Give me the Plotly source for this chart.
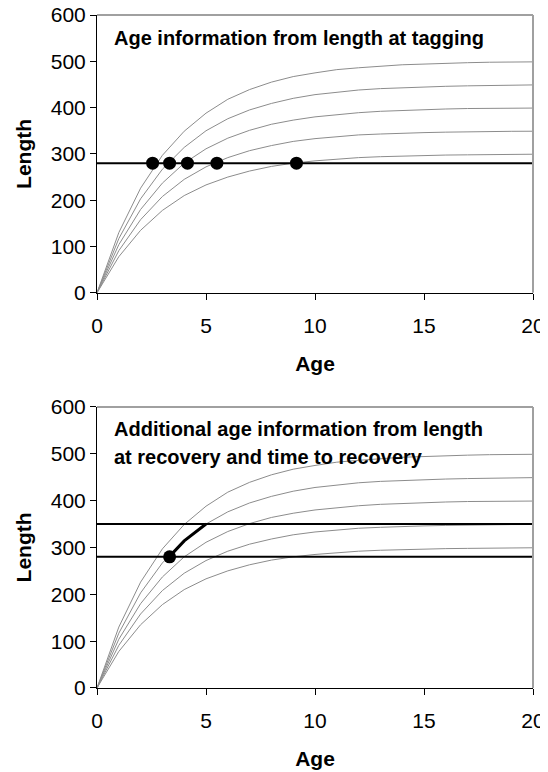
import plotly.graph_objects as go
from plotly.subplots import make_subplots

ages = list(range(0, 21))
len_300 = [0, 78, 135, 178, 210, 233, 250, 263, 273, 280, 285, 289, 292, 294, 295.5, 297, 297.5, 298, 298.6, 299, 299.3]
len_350 = [0, 91, 158, 208, 245, 272, 292, 307, 318, 327, 333, 337, 341, 343, 345, 346, 347, 348, 348.4, 348.8, 349]
len_400 = [0, 104, 180, 237, 280, 311, 334, 351, 364, 373, 380, 385, 389, 392, 394, 396, 397, 398, 398.3, 398.7, 399]
len_450 = [0, 117, 203, 267, 314, 350, 376, 395, 409, 420, 428, 433, 438, 441, 443, 445, 446, 447, 448, 448.5, 449]
len_500 = [0, 130, 226, 297, 349, 388, 418, 439, 455, 467, 475, 482, 486, 490, 492.5, 494, 496, 497, 498, 498.3, 498.8]
curves = [len_300, len_350, len_400, len_450, len_500]

tag_length = 280
recovery_length = 350
tag_ages = [2.55, 3.33, 4.15, 5.5, 9.15]
tag_lengths = [280, 280, 280, 280, 280]
growth_ages = [3.33, 4, 5]
growth_lengths = [281, 314, 350]

x_range = [0, 20]
x_ticks = [0, 5, 10, 15, 20]
y_ticks = [0, 100, 200, 300, 400, 500, 600]

FONT = "Liberation Sans, Arial, sans-serif"
GRAY = "#8c8c8c"

fig = make_subplots(rows=2, cols=1, vertical_spacing=0.0)

for row in (1, 2):
    for c in curves:
        fig.add_trace(go.Scatter(x=ages, y=c, mode="lines",
                                 line=dict(color=GRAY, width=1), showlegend=False,
                                 hoverinfo="skip"), row=row, col=1)
    fig.add_trace(go.Scatter(x=x_range, y=[tag_length, tag_length], mode="lines",
                             line=dict(color="black", width=2), showlegend=False), row=row, col=1)

fig.add_trace(go.Scatter(x=tag_ages, y=tag_lengths, mode="markers",
                         marker=dict(color="black", size=13), showlegend=False), row=1, col=1)

fig.add_trace(go.Scatter(x=x_range, y=[recovery_length, recovery_length], mode="lines",
                         line=dict(color="black", width=2), showlegend=False), row=2, col=1)
fig.add_trace(go.Scatter(x=growth_ages, y=growth_lengths, mode="lines",
                         line=dict(color="black", width=3), showlegend=False), row=2, col=1)
fig.add_trace(go.Scatter(x=[growth_ages[0]], y=[tag_length], mode="markers",
                         marker=dict(color="black", size=13), showlegend=False), row=2, col=1)

axis_common = dict(showgrid=False, zeroline=False, showline=True, linecolor="black",
                   linewidth=1, ticks="outside", ticklen=6, tickcolor="black", automargin=False,
                   ticklabeloverflow="allow",
                   tickfont=dict(family=FONT, size=21, color="black"))

for row, dom in ((1, [0.5872, 1.0]), (2, [0.0, 0.4177])):
    fig.update_xaxes(range=x_range, tickvals=x_ticks, ticklabelstandoff=8,
                     title=dict(text="<b>Age</b>", font=dict(family=FONT, size=21, color="black"),
                                standoff=20),
                     row=row, col=1, **axis_common)
    fig.update_yaxes(range=[0, 600], tickvals=y_ticks, domain=dom,
                     title=dict(text="<b>Length</b>", font=dict(family=FONT, size=21, color="black"),
                                standoff=13),
                     row=row, col=1, **axis_common)

# gray top/right frame
for xr, yr in (("x domain", "y domain"), ("x2 domain", "y2 domain")):
    fig.add_shape(type="line", xref=xr, yref=yr, x0=0, x1=1, y0=1, y1=1,
                  line=dict(color="#a0a0a0", width=2))
    fig.add_shape(type="line", xref=xr, yref=yr, x0=1, x1=1, y0=0, y1=1,
                  line=dict(color="#a0a0a0", width=2))

ann_font = dict(family=FONT, size=20, color="black")
fig.add_annotation(x=0.7, y=550, xref="x", yref="y", xanchor="left", yanchor="middle",
                   text="<b>Age information from length at tagging</b>", showarrow=False, font=ann_font)
fig.add_annotation(x=0.7, y=552, xref="x2", yref="y2", xanchor="left", yanchor="middle",
                   text="<b>Additional age information from length</b>", showarrow=False, font=ann_font)
fig.add_annotation(x=0.7, y=493, xref="x2", yref="y2", xanchor="left", yanchor="middle",
                   text="<b>at recovery and time to recovery</b>", showarrow=False, font=ann_font)

fig.update_layout(width=540, height=764, margin=dict(l=89, r=15, t=7, b=84),
                  plot_bgcolor="white", paper_bgcolor="white",
                  font=dict(family=FONT, color="black"))

fig.write_html("out.html")
